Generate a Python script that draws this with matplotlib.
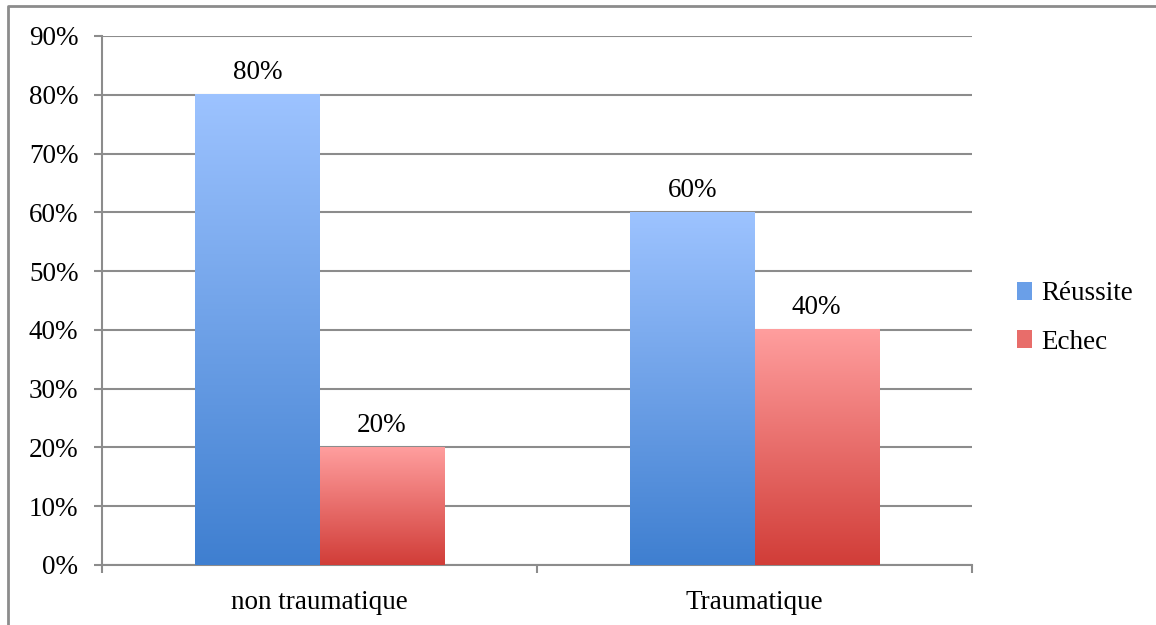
import numpy as np
import matplotlib.pyplot as plt
from matplotlib.colors import LinearSegmentedColormap
from matplotlib.lines import Line2D
from matplotlib.patches import Patch

# Data
categories = ["non traumatique", "Traumatique"]
series_names = ["Réussite", "Echec"]
reussite = [0.80, 0.60]
echec = [0.20, 0.40]
yticks = [0, 0.1, 0.2, 0.3, 0.4, 0.5, 0.6, 0.7, 0.8, 0.9]

# gradient colours (top, bottom)
blue_grad = ("#9dc3ff", "#3f7fd0")
red_grad = ("#ff9e9e", "#d13d38")

plt.rcParams['font.family'] = ['Liberation Serif', 'DejaVu Serif']
FS = 19.5
GRID = "#8c8c8c"

fig = plt.figure(figsize=(11.56, 6.25), dpi=100)
ax = fig.add_axes([102 / 1156, 60 / 625, 870 / 1156, 529 / 625])

x = np.arange(len(categories))
w = 0.286


def gradient_bars(xpos, vals, colors):
    bars = ax.bar(xpos, vals, w, color="none", edgecolor="none", zorder=3)
    cmap = LinearSegmentedColormap.from_list("g", [colors[1], colors[0]])
    grad = np.linspace(0, 1, 256).reshape(-1, 1)
    for b in bars:
        x0, h, bw = b.get_x(), b.get_height(), b.get_width()
        ax.imshow(grad, cmap=cmap, origin="lower", aspect="auto",
                  extent=(x0, x0 + bw, 0, h), zorder=3)
        ax.annotate(f"{h * 100:.0f}%", (x0 + bw / 2, h), xytext=(0, 7),
                    textcoords="offset points", ha="center", va="bottom",
                    fontsize=FS, color="black")
    return bars


gradient_bars(x - w / 2, reussite, blue_grad)
gradient_bars(x + w / 2, echec, red_grad)

ax.set_xlim(-0.5, len(categories) - 0.5)
ax.set_ylim(0, 0.9)
ax.set_yticks(yticks)
ax.set_yticklabels([f"{t * 100:.0f}%" for t in yticks], fontsize=FS)
ax.yaxis.grid(True, color=GRID, lw=1.5, zorder=1)
ax.set_axisbelow(True)

ax.set_xticks(x)
ax.set_xticklabels(categories, fontsize=FS)
ax.set_xticks(np.arange(len(categories) + 1) - 0.5, minor=True)
ax.tick_params(axis="x", which="major", length=0, pad=18)
ax.tick_params(axis="x", which="minor", length=6, width=1.5, color=GRID, direction="out")
ax.tick_params(axis="y", length=6, width=1.5, color=GRID, pad=11)

for s in ["top", "right"]:
    ax.spines[s].set_visible(False)
for s in ["left", "bottom"]:
    ax.spines[s].set_color(GRID)
    ax.spines[s].set_linewidth(1.5)

handles = [Patch(facecolor="#6a9fe8", edgecolor="none"),
           Patch(facecolor="#e86d6a", edgecolor="none")]
fig.legend(handles, series_names, loc="center left",
           bbox_to_anchor=(993 / 1156, 1 - 318 / 625), frameon=False,
           fontsize=FS, handlelength=0.55, handleheight=0.6,
           handletextpad=0.35, labelspacing=0.85)

# outer chart frame (left and top edges)
fig.add_artist(Line2D([8 / 1156, 8 / 1156, 1.0], [0.0, 1 - 6 / 625, 1 - 6 / 625],
                      transform=fig.transFigure, color=GRID, lw=2))

fig.savefig("out.png", dpi=100)
